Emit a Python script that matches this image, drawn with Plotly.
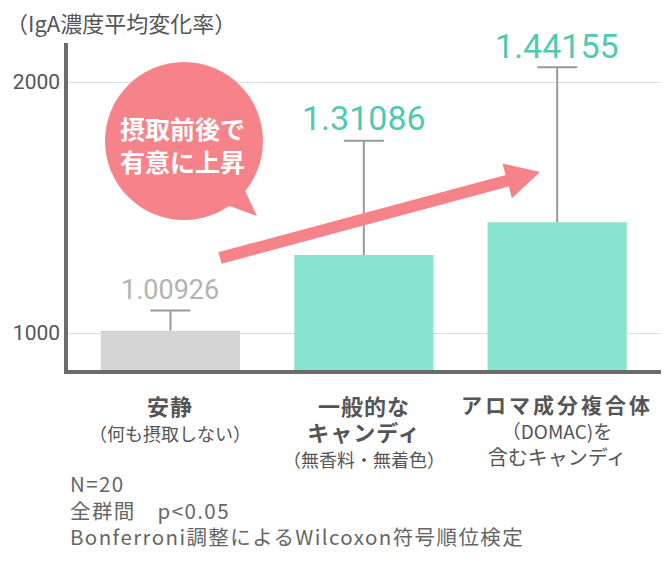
import numpy as np
import plotly.graph_objects as go

# data
categories = ["安静", "一般的なキャンディ", "アロマ成分複合体を含むキャンディ"]
mean_values = [1009.26, 1310.86, 1441.55]
error_plus = [80, 455, 617]
tick_values = [1000, 2000]
tick_labels = ["1000", "2000"]
label_lines = [
    ["安静", "（何も摂取しない）"],
    ["一般的な", "キャンディ", "（無香料・無着色）"],
    ["アロマ成分複合体", "（DOMAC)を", "含むキャンディ"],
]
notes = ["N=20", "全群間　p<0.05", "Bonferroni調整によるWilcoxon符号順位検定"]
y_title = "（IgA濃度平均変化率）"
bubble_lines = ["摂取前後で", "有意に上昇"]

W, H = 667, 565
ML, MR, MT, MB = 68, 6, 43, 195
PW, PH = W - ML - MR, H - MT - MB

GRAY_BAR = "#d4d4d4"
MINT = "#88e3d1"
TEAL = "#4fcab1"
PINK = "#f7838a"
TEXT = "#555555"
ERR = "#9a9a9a"
CJK = "Noto Sans CJK JP"


def px_x(p):
    return (p - ML) / PW


def px_y(p):
    return (H - MB - p) / PH


def styled(s, size=None, bold=False, sp=0):
    style = []
    if size:
        style.append(f"font-size:{size}px")
    if sp:
        style.append(f"letter-spacing:{sp}px")
    out = f'<span style="{";".join(style)}">{s}</span>' if style else s
    return f"<b>{out}</b>" if bold else out


tops = [v + e for v, e in zip(mean_values, error_plus)]

fig = go.Figure()
# bars with the upper whisker only (no caps)
fig.add_trace(go.Bar(
    x=categories, y=mean_values, width=0.72,
    marker=dict(color=[GRAY_BAR, MINT, MINT], line=dict(width=0)),
    error_y=dict(type="data", symmetric=False, array=error_plus,
                 arrayminus=[0, 0, 0], color=ERR, thickness=2, width=0),
    hoverinfo="skip",
))
# caps at the top of the whiskers
fig.add_trace(go.Scatter(
    x=categories, y=tops, mode="markers",
    marker=dict(size=1, opacity=0),
    error_y=dict(type="data", array=[0, 0, 0], color=ERR, thickness=2, width=20),
    hoverinfo="skip",
))

# value labels above the error bars
for i, (c, t) in enumerate(zip(categories, tops)):
    fig.add_annotation(
        x=c, y=t, xref="x", yref="y", text=f"{mean_values[i] / 1000:.5f}",
        showarrow=False, xanchor="center", yanchor="middle",
        yshift=21 if i != 1 else 23,
        font=dict(family="Roboto", size=27 if i == 0 else 34,
                  color="#b3b3b3" if i == 0 else TEAL),
    )

# category labels under the axis
row_style = {
    (0, 0): (22, True, 1), (0, 1): (18, False, 0),
    (1, 0): (22, True, 1), (1, 1): (22, True, 1), (1, 2): (18, False, 0),
    (2, 0): (21, True, 3), (2, 1): (19, False, 0), (2, 2): (20, False, 0),
}
for i, lines in enumerate(label_lines):
    txt = "<br>".join(styled(line, *row_style[(i, j)]) for j, line in enumerate(lines))
    fig.add_annotation(
        x=i, y=px_y(387), xref="x", yref="paper", text=txt, showarrow=False,
        xanchor="center", yanchor="top", align="center",
        font=dict(family=CJK, size=20, color=TEXT),
    )

# footnotes
fig.add_annotation(
    x=px_x(68), y=px_y(509), xref="paper", yref="paper",
    text="<br>".join(styled(line, sp=1.4) for line in notes), showarrow=False,
    xanchor="left", yanchor="middle", align="left",
    font=dict(family=CJK, size=20.5, color="#666666"),
)

# axis title
fig.add_annotation(
    x=px_x(4), y=px_y(22), xref="paper", yref="paper", text=y_title,
    showarrow=False, xanchor="left", yanchor="middle",
    font=dict(family=CJK, size=22, color=TEXT),
)

# trend arrow
tail = np.array([220.0, 258.0])
tip = np.array([540.0, 172.0])
u = (tip - tail) / np.linalg.norm(tip - tail)
n = np.array([-u[1], u[0]])
if n[1] < 0:
    n = -n
base = tip - 34 * u
pts = [tail + 6 * n, base + 6 * n, base + 18 * n, tip,
       base - 18 * n, base - 6 * n, tail - 6 * n]
path = "M " + " L ".join(f"{px_x(p[0]):.5f},{px_y(p[1]):.5f}" for p in pts) + " Z"
fig.add_shape(type="path", path=path, xref="paper", yref="paper",
              fillcolor=PINK, line=dict(width=0), layer="above")

# speech bubble
fig.add_shape(type="circle", xref="paper", yref="paper",
              x0=px_x(105), x1=px_x(263), y0=px_y(220), y1=px_y(62),
              fillcolor=PINK, line=dict(width=0), layer="above")
tail_pts = [(240, 180), (257, 216), (227, 205)]
fig.add_shape(type="path", xref="paper", yref="paper",
              path="M " + " L ".join(f"{px_x(a):.5f},{px_y(b):.5f}" for a, b in tail_pts) + " Z",
              fillcolor=PINK, line=dict(width=0), layer="above")
fig.add_annotation(
    x=px_x(182), y=px_y(144), xref="paper", yref="paper",
    text="<br>".join(f"<b>{line}</b>" for line in bubble_lines), showarrow=False,
    xanchor="center", yanchor="middle", align="center",
    font=dict(family=CJK, size=25, color="white"),
)

fig.update_layout(
    width=W, height=H, margin=dict(l=ML, r=MR, t=MT, b=MB),
    paper_bgcolor="white", plot_bgcolor="white", showlegend=False,
)
fig.update_xaxes(type="category", range=[-0.53, 2.537], showticklabels=False,
                 ticks="", showgrid=False, showline=True, linecolor="#6b6b6b",
                 linewidth=3.5, zeroline=False)
fig.update_yaxes(range=[852.6, 2155.4], tickvals=tick_values, ticktext=tick_labels,
                 tickfont=dict(family="Roboto", size=21, color=TEXT), ticks="",
                 showgrid=True, gridcolor="#dddddd", gridwidth=1,
                 showline=True, linecolor="#6b6b6b", linewidth=3.5, zeroline=False)

fig.write_html("out.html", config={"displayModeBar": False},
               post_script="document.body.style.margin='0';")
